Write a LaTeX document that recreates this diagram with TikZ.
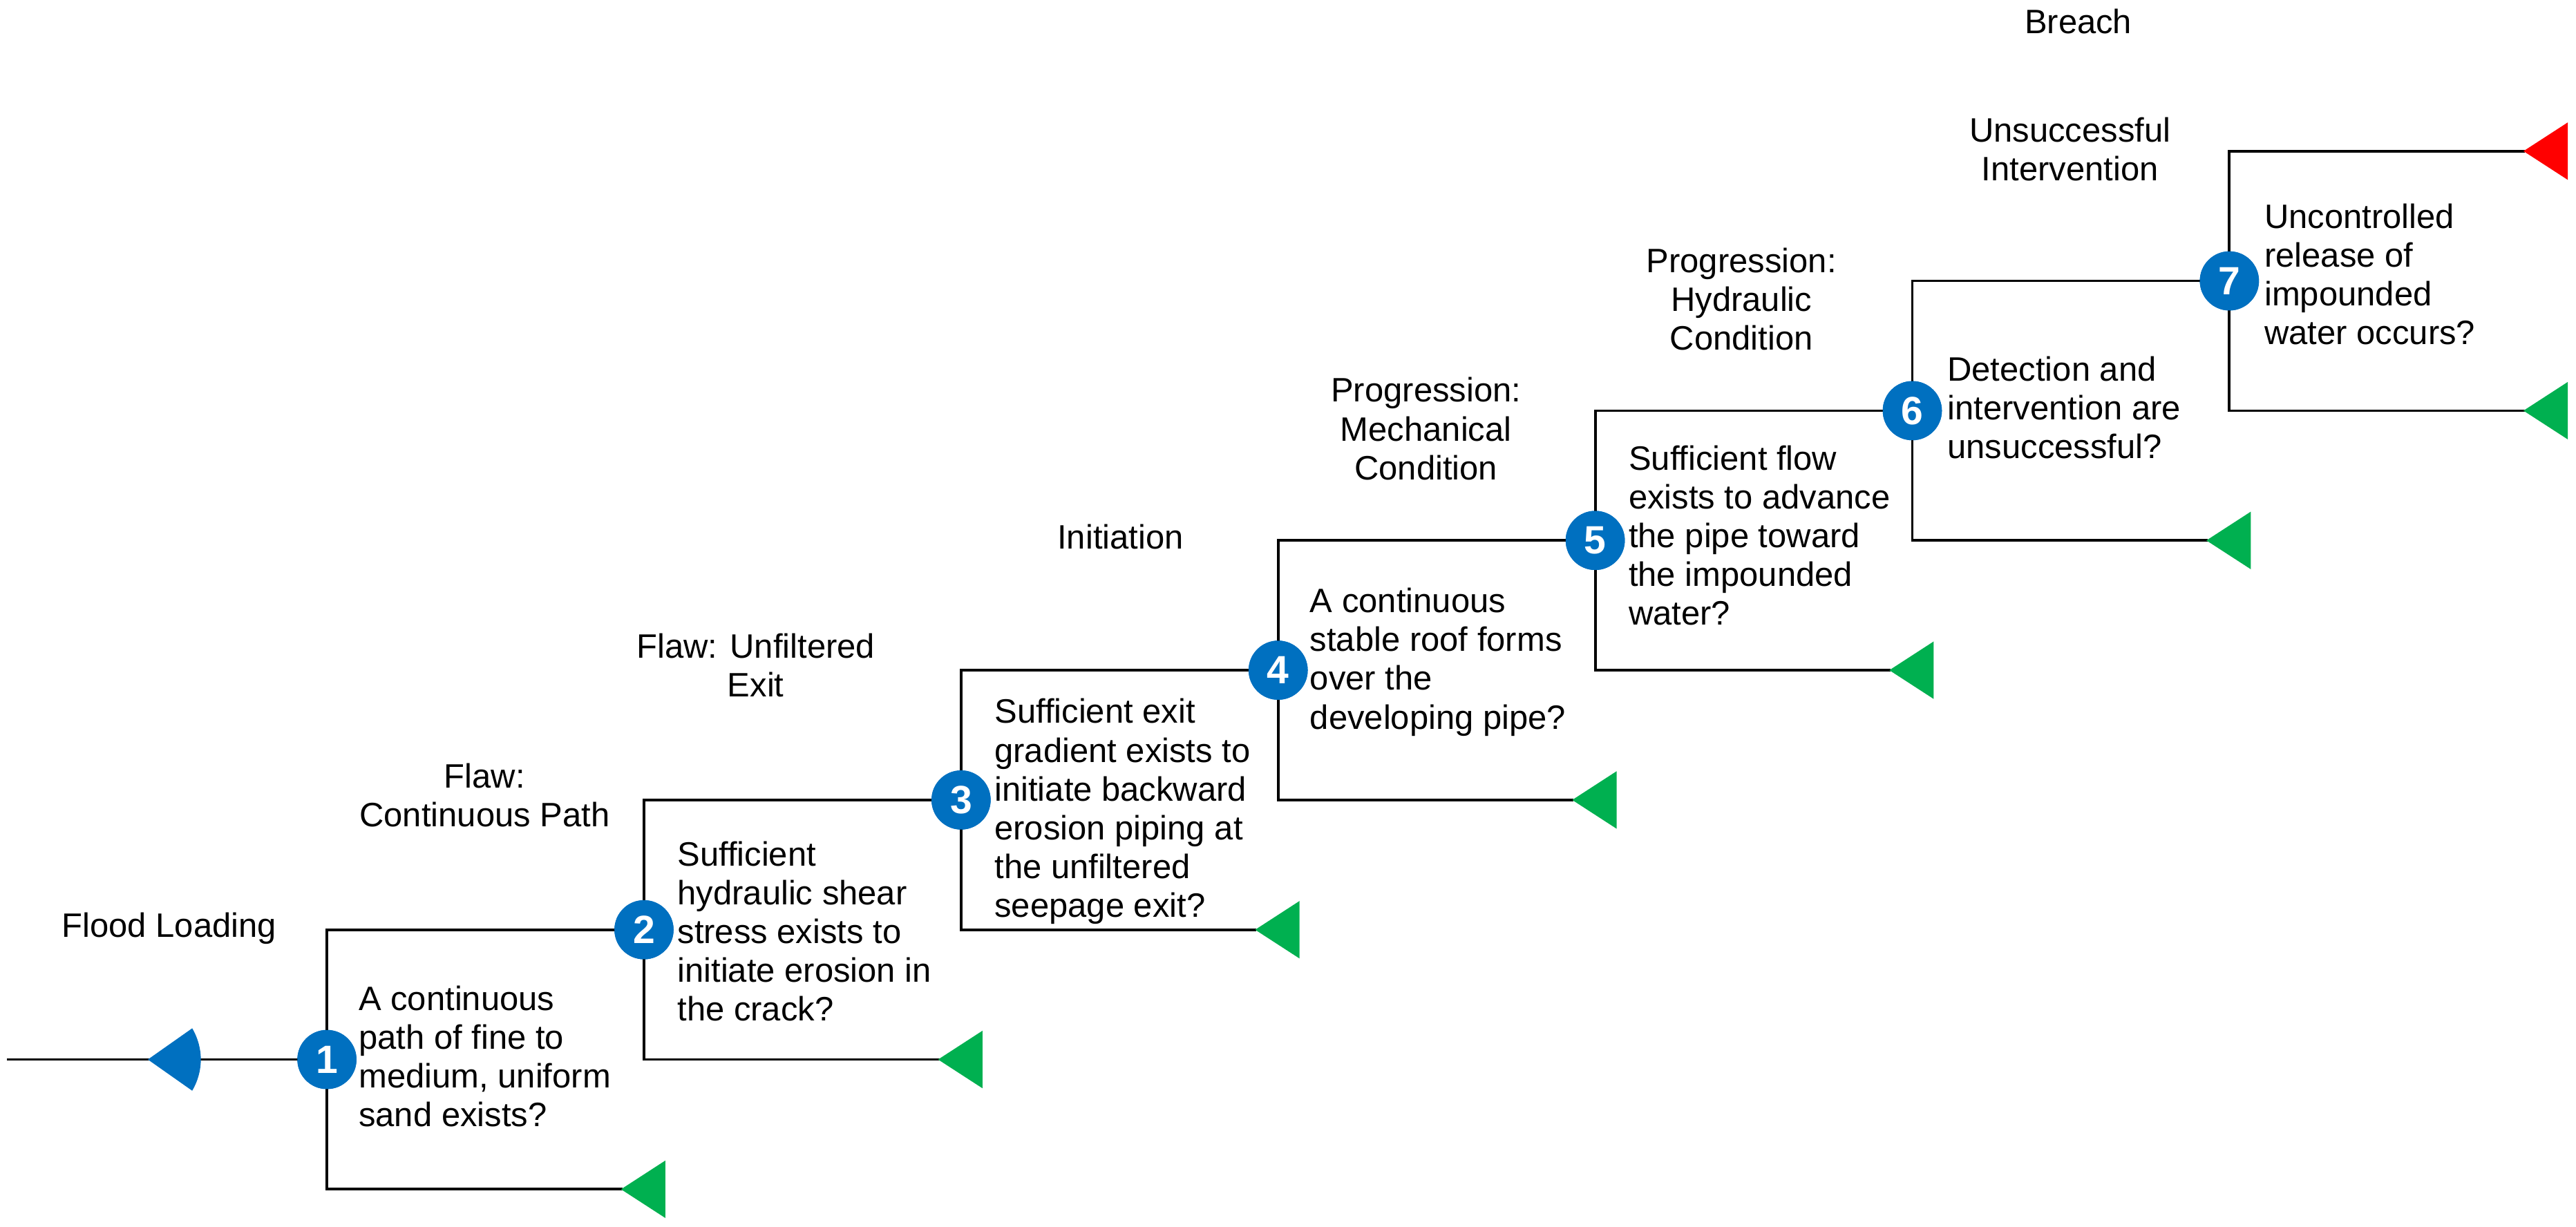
\documentclass[tikz,border=0pt]{standalone}
\usepackage{fontspec}
\setmainfont{Liberation Sans}
\usepackage{tikz}
\usetikzlibrary{positioning}
\definecolor{evblue}{HTML}{0070C0}
\definecolor{evgreen}{HTML}{00B050}
\definecolor{evred}{HTML}{FF0000}
\tikzset{
  event/.style={circle,fill=evblue,minimum size=18pt,inner sep=0pt,text=white,font=\fontsize{12}{12}\selectfont\bfseries},
  question/.style={anchor=west,align=left,inner sep=0pt,font=\fontsize{10.3}{11.8}\selectfont},
  stage/.style={align=center,inner sep=0pt,font=\fontsize{10.3}{11.8}\selectfont},
  branch/.style={line width=0.8pt,line cap=rect}
}
\newcommand{\okend}[1]{\fill[evgreen] (#1) -- ++(27,-17.5) -- ++(0,35) -- cycle;}
\begin{document}
\begin{tikzpicture}[x=0.5pt,y=-0.5pt]
\useasboundingbox (0,0) rectangle (1568,746.6);
%events
\node[event] (n1) at (199,645) {1};
\node[event] (n2) at (392,566) {2};
\node[event] (n3) at (585,487) {3};
\node[event] (n4) at (778,408) {4};
\node[event] (n5) at (971,329) {5};
\node[event] (n6) at (1164,250) {6};
\node[event] (n7) at (1357,171) {7};
\coordinate (start) at (5,645);
\coordinate (b1) at (199,724);
\coordinate (b2) at (392,645);
\coordinate (b3) at (585,566);
\coordinate (b4) at (778,487);
\coordinate (b5) at (971,408);
\coordinate (b6) at (1164,329);
\coordinate (t7) at (1357,92);
\coordinate (b7) at (1357,250);
\coordinate (g1) at (378,724);
\coordinate (g2) at (571,645);
\coordinate (g3) at (764,566);
\coordinate (g4) at (957,487);
\coordinate (g5) at (1150,408);
\coordinate (g6) at (1343,329);
\coordinate (r7) at (1536,92);
\coordinate (g7) at (1536,250);
%tree lines
\draw[branch] (start) -- (n1);
\draw[branch] (n1) -- (n1|-n2) -- (n2);
\draw[branch] (n2) -- (n2|-n3) -- (n3);
\draw[branch] (n3) -- (n3|-n4) -- (n4);
\draw[branch] (n4) -- (n4|-n5) -- (n5);
\draw[branch] (n5) -- (n5|-n6) -- (n6);
\draw[branch] (n6) -- (n6|-n7) -- (n7);
\draw[branch] (n7) -- (t7) -- (r7);
\draw[branch] (n1) -- (b1) -- (g1);
\draw[branch] (n2) -- (b2) -- (g2);
\draw[branch] (n3) -- (b3) -- (g3);
\draw[branch] (n4) -- (b4) -- (g4);
\draw[branch] (n5) -- (b5) -- (g5);
\draw[branch] (n6) -- (b6) -- (g6);
\draw[branch] (n7) -- (b7) -- (g7);
\node[event] at (n1) {1};
\node[event] at (n2) {2};
\node[event] at (n3) {3};
\node[event] at (n4) {4};
\node[event] at (n5) {5};
\node[event] at (n6) {6};
\node[event] at (n7) {7};
%end symbols
\fill[evblue] (90,645) -- (117,626) .. controls (124,638) and (124,652) .. (117,664) -- cycle;
\okend{g1}\okend{g2}\okend{g3}\okend{g4}\okend{g5}\okend{g6}\okend{g7}
\fill[evred] (r7) -- ++(27,-17.5) -- ++(0,35) -- cycle;
%stage labels
\node[stage] (s0) at (103,565) {Flood Loading};
\node[stage] (s1) at (295,484) {Flaw:\\Continuous Path};
\node[stage] (s2) at (460,405) {Flaw: Unfiltered\\Exit};
\node[stage] (s3) at (682,327) {Initiation};
\node[stage] (s4) at (868,261) {Progression:\\Mechanical\\Condition};
\node[stage] (s5) at (1060,182) {Progression:\\Hydraulic\\Condition};
\node[stage] (s6) at (1260,91) {Unsuccessful\\Intervention};
\node[stage] (s7) at (1265,13) {Breach};
%questions
\node[question] (q1) at (218,643) {A continuous\\path of fine to\\medium, uniform\\sand exists?};
\node[question] (q2) at (412,567) {Sufficient\\hydraulic shear\\stress exists to\\initiate erosion in\\the crack?};
\node[question] (q3) at (605,494) {Sufficient exit\\gradient exists to\\initiate backward\\erosion piping at\\the unfiltered\\seepage exit?};
\node[question] (q4) at (797,403) {A continuous\\stable roof forms\\over the\\developing pipe?};
\node[question] (q5) at (991,326) {Sufficient flow\\exists to advance\\the pipe toward\\the impounded\\water?};
\node[question] (q6) at (1185,248) {Detection and\\intervention are\\unsuccessful?};
\node[question] (q7) at (1378,167) {Uncontrolled\\release of\\impounded\\water occurs?};
\end{tikzpicture}
\end{document}
